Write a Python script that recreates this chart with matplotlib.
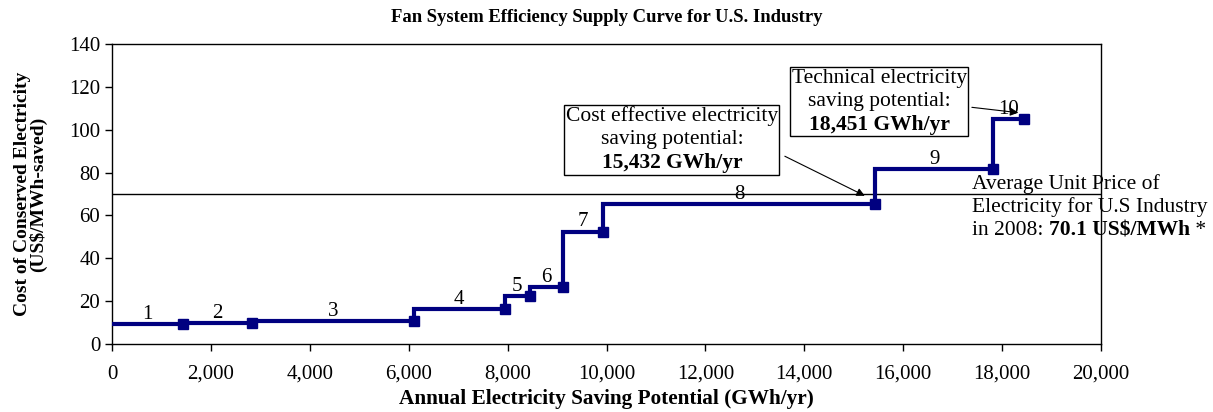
import matplotlib
matplotlib.use("Agg")
import matplotlib.pyplot as plt
from matplotlib.offsetbox import TextArea, VPacker, HPacker, AnnotationBbox

plt.rcParams['font.family'] = ['Liberation Serif', 'DejaVu Serif']

# Cumulative savings (GWh/yr) at the end of each measure, and cost (US$/MWh-saved)
cum_savings = [1434, 2822, 6107, 7939, 8451, 9118, 9939, 15432, 17824, 18451]
costs = [9.2, 10.0, 10.6, 16.2, 22.3, 26.5, 52.5, 65.4, 81.8, 104.8]
labels = ['1', '2', '3', '4', '5', '6', '7', '8', '9', '10']
avg_price = 70.1
x_ticks = list(range(0, 20001, 2000))
y_ticks = list(range(0, 141, 20))

fig = plt.figure(figsize=(12.13, 4.12), dpi=100)
ax = fig.add_axes([112/1213, 1-344/412, (1101-112)/1213, 300/412])

# step curve
xs, ys = [], []
prev = 0
for c, s in zip(costs, cum_savings):
    xs += [prev, s]
    ys += [c, c]
    prev = s
navy = '#000080'
ax.plot(xs, ys, color=navy, lw=3, solid_joinstyle='miter', zorder=3)
ax.plot(cum_savings, costs, 's', color=navy, ms=6.5, zorder=4)

prev = 0
for c, s, lab in zip(costs, cum_savings, labels):
    ax.annotate(lab, xy=((prev + s) / 2, c), xytext=(0, 0), textcoords='offset points',
                ha='center', va='bottom', fontsize=15)
    prev = s

ax.axhline(avg_price, color='black', lw=1, zorder=2)

ax.set_xlim(0, 20000)
ax.set_ylim(0, 140)
ax.set_xticks(x_ticks)
ax.set_xticklabels([f"{v:,}" for v in x_ticks])
ax.set_yticks(y_ticks)
ax.tick_params(direction='out', length=5, labelsize=15, width=1)
ax.tick_params(axis='x', pad=10)
for sp in ax.spines.values():
    sp.set_linewidth(1)

ax.set_xlabel('Annual Electricity Saving Potential (GWh/yr)', fontsize=15.3, fontweight='bold', labelpad=4)
ax.set_ylabel('Cost of Conserved Electricity\n(US\\$/MWh-saved)', fontsize=14, fontweight='bold',
              labelpad=16, linespacing=0.85)
fig.text((112+1101)/2/1213, 1-18/412, 'Fan System Efficiency Supply Curve for U.S. Industry',
         ha='center', va='center', fontsize=13.4, fontweight='bold')

def boxed(lines, bold_line, xy):
    areas = [TextArea(l, textprops=dict(fontsize=15.5)) for l in lines]
    areas.append(TextArea(bold_line, textprops=dict(fontsize=15.5, fontweight='bold')))
    pack = VPacker(children=areas, align='center', pad=0, sep=3)
    ab = AnnotationBbox(pack, xy, xycoords='data', frameon=True, pad=0.1, box_alignment=(0.5, 0.5),
                        bboxprops=dict(edgecolor='black', lw=1, facecolor='white'))
    ab.set_zorder(5)
    ax.add_artist(ab)

boxed(['Cost effective electricity', 'saving potential:'], '15,432 GWh/yr', (11323, 95.4))
boxed(['Technical electricity', 'saving potential:'], '18,451 GWh/yr', (15515, 113.0))

ax.annotate('', xy=(15273, 68.6), xytext=(13556, 88.2),
            arrowprops=dict(arrowstyle='-|>', color='black', lw=0.8, mutation_scale=12))
ax.annotate('', xy=(18384, 107.8), xytext=(17333, 110.6),
            arrowprops=dict(arrowstyle='-|>', color='black', lw=0.8, mutation_scale=12))

tp = dict(fontsize=15.5)
l1 = TextArea('Average Unit Price of', textprops=tp)
l2 = TextArea('Electricity for U.S Industry', textprops=tp)
l3 = HPacker(children=[TextArea('in 2008: ', textprops=tp),
                       TextArea('70.1 US\\$/MWh', textprops=dict(fontsize=15.5, fontweight='bold')),
                       TextArea(' *', textprops=tp)], align='baseline', pad=0, sep=0)
price = VPacker(children=[l1, l2, l3], align='left', pad=0, sep=2.5)
ab = AnnotationBbox(price, (17394, 79.5), xycoords='data', frameon=False, box_alignment=(0, 1), pad=0,
                    annotation_clip=False)
ab.set_zorder(6)
ax.add_artist(ab)

fig.savefig('out.png', dpi=100)
